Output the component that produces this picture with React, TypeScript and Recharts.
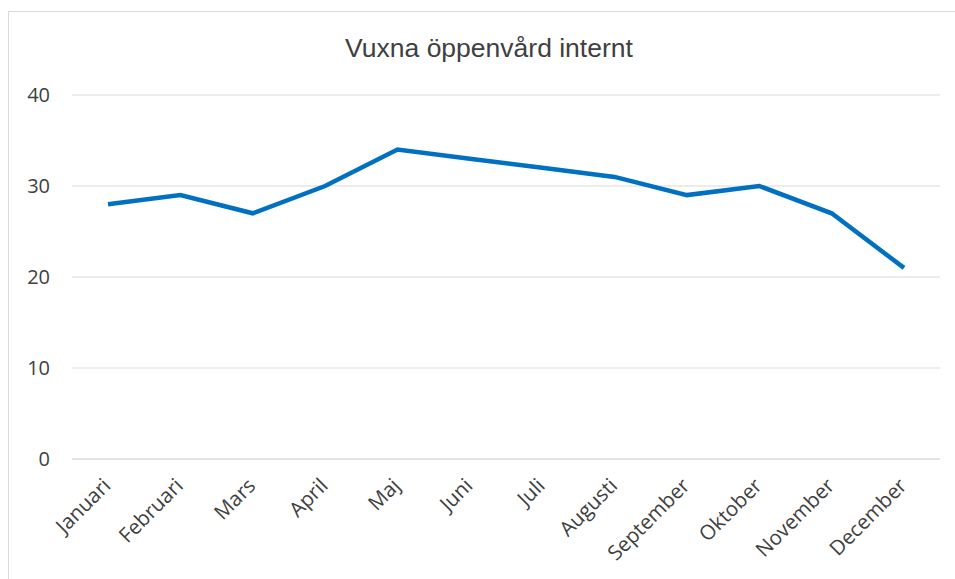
import { LineChart, Line, XAxis, YAxis, CartesianGrid } from 'recharts'

const months = ['Januari', 'Februari', 'Mars', 'April', 'Maj', 'Juni', 'Juli', 'Augusti', 'September', 'Oktober', 'November', 'December']
const values = [28, 29, 27, 30, 34, 33, 32, 31, 29, 30, 27, 21]
const yTicks = [0, 10, 20, 30, 40]

const chartData = months.map((m, i) => ({ name: m, value: values[i] }))

// roterade månadsetiketter
function MonthTick(props: any) {
  const { x, y, payload } = props
  return (
    <g transform={`translate(${x + 4},${y + 20})`}>
      <text
        x={0}
        y={0}
        textAnchor="end"
        transform="rotate(-45)"
        fill="#404040"
        fontSize={20.5}
        fontFamily="'Open Sans', sans-serif"
      >
        {payload.value}
      </text>
    </g>
  )
}

export default function App() {
  return (
    <div style={{ position: 'absolute', left: 0, top: 0, width: 955, height: 579, background: '#fff', overflow: 'hidden' }}>
      <div
        style={{
          position: 'absolute',
          left: 8,
          top: 11,
          width: 960,
          height: 600,
          border: '1px solid #d9d9d9',
        }}
      />
      <div
        style={{
          position: 'absolute',
          left: 0,
          width: 978,
          top: 33,
          textAlign: 'center',
          fontFamily: "'Liberation Sans', Arial, sans-serif",
          fontSize: 26.5,
          color: '#404040',
        }}
      >
        Vuxna öppenvård internt
      </div>
      <div style={{ position: 'absolute', left: 0, top: 0 }}>
        <LineChart width={955} height={579} data={chartData} margin={{ top: 95, right: 15, bottom: 0, left: 0 }}>
          <CartesianGrid vertical={false} stroke="#d9d9d9" strokeWidth={1} />
          <XAxis
            dataKey="name"
            interval={0}
            height={120}
            padding={{ left: 36, right: 36 }}
            axisLine={{ stroke: '#d9d9d9' }}
            tickLine={false}
            tick={<MonthTick />}
          />
          <YAxis
            width={72}
            domain={[0, 40]}
            ticks={yTicks}
            axisLine={false}
            tickLine={false}
            tickMargin={16}
            tick={{ fill: '#404040', fontSize: 20, fontFamily: "'Open Sans', sans-serif" }}
          />
          <Line
            type="linear"
            dataKey="value"
            stroke="#0070c0"
            strokeWidth={4.5}
            dot={false}
            isAnimationActive={false}
          />
        </LineChart>
      </div>
    </div>
  )
}
